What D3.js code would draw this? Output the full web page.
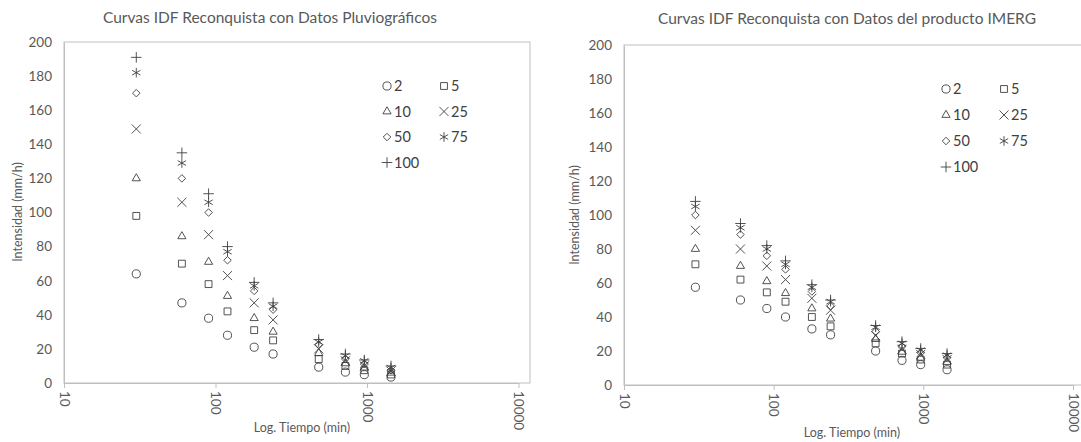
<!DOCTYPE html>
<html>
<head>
<meta charset="utf-8">
<script src="https://cdn.jsdelivr.net/npm/d3@7"></script>
<style>
  body { margin: 0; background: #fff; }
  svg { font-family: Lato, "Open Sans", sans-serif; }
  .title { font-size: 15.5px; fill: #595959; text-anchor: middle; }
  .axisText { font-size: 12.5px; fill: #595959; text-anchor: middle; }
  .tick text { font-size: 13.5px; fill: #595959; font-family: Lato, sans-serif; }
  .legend text { font-size: 14.5px; fill: #404040; }
</style>
</head>
<body>
<div id="chart"></div>
<script>
// durations (min) and return periods (years)
var durations = [30, 60, 90, 120, 180, 240, 480, 720, 960, 1440];
var periods = ["2", "5", "10", "25", "50", "75", "100"];
var xTicks = [10, 100, 1000, 10000];
var yTicks = [0, 20, 40, 60, 80, 100, 120, 140, 160, 180, 200];

// pluviograph data, one array per return period
var pluvio2   = [64, 47, 38, 28, 21, 17, 9.3, 6.4, 4.9, 3.5];
var pluvio5   = [98, 70, 58, 42, 31, 25, 14, 10, 7.5, 5];
var pluvio10  = [120, 86, 71, 51, 38, 30, 17.5, 11.5, 9, 6];
var pluvio25  = [149, 106, 87, 63, 47, 37, 20, 13, 10, 7];
var pluvio50  = [170, 120, 100, 72, 54, 43, 22.5, 14, 11, 7.5];
var pluvio75  = [182, 129, 106, 77, 57, 45, 24, 16, 13, 9];
var pluvio100 = [191, 135, 111, 80, 59, 47, 25.5, 17, 13.5, 10];

// IMERG data
var imerg2   = [57.5, 50, 45, 40, 33, 29.5, 20, 14.5, 12, 9];
var imerg5   = [71, 62, 54.5, 49, 40, 34.5, 24.5, 18.5, 15, 12];
var imerg10  = [80, 70, 61, 54, 45, 39, 27, 19.5, 16, 13.5];
var imerg25  = [91, 80, 70, 62, 51, 44, 29, 21, 18, 15];
var imerg50  = [100, 88.5, 76, 68, 55, 46.5, 31.5, 22.5, 19, 16];
var imerg75  = [105, 92.5, 80, 71, 57.5, 49, 34, 24.5, 20.5, 17.5];
var imerg100 = [108, 95, 82, 73, 59, 50, 35, 25.5, 21.5, 18.5];

var svgWidth = 1081;
var svgHeight = 442;

var svg = d3.select("#chart")
    .append("svg")
    .attr("width", svgWidth)
    .attr("height", svgHeight);

// marker shape + size for each return period
var markers = [
    { type: d3.symbolCircle, size: 52 },
    { type: d3.symbolSquare2, size: 60 },
    { type: d3.symbolTriangle2, size: 48 },
    { type: d3.symbolX, size: 55 },
    { type: d3.symbolDiamond2, size: 36 },
    { type: d3.symbolAsterisk, size: 65 },
    { type: d3.symbolPlus, size: 38 }
];

function drawPanel(cfg) {
    var xScale = d3.scaleLog()
        .domain([10, 10000])
        .range([cfg.left, cfg.xEnd]);

    var yScale = d3.scaleLinear()
        .domain([0, 200])
        .range([cfg.bottom, cfg.top]);

    var g = svg.append("g");

    // plot area border
    g.append("rect")
        .attr("x", cfg.left)
        .attr("y", cfg.top)
        .attr("width", cfg.frameRight - cfg.left)
        .attr("height", cfg.bottom - cfg.top)
        .attr("fill", "none")
        .attr("stroke", "#bfbfbf")
        .attr("stroke-width", 1);

    // x axis
    var bottomAxis = d3.axisBottom(xScale)
        .tickValues(xTicks)
        .tickFormat(d3.format("d"))
        .tickSizeInner(5)
        .tickSizeOuter(0);

    var xAxis = g.append("g")
        .attr("transform", `translate(0, ${cfg.bottom})`)
        .call(bottomAxis);
    xAxis.select(".domain").attr("stroke", "#bfbfbf");
    xAxis.selectAll(".tick line").attr("stroke", "#bfbfbf");
    xAxis.selectAll(".tick text")
        .attr("transform", "rotate(90)")
        .attr("x", 8)
        .attr("y", 0)
        .attr("dy", "0.35em")
        .style("text-anchor", "start");

    // y axis
    var leftAxis = d3.axisLeft(yScale)
        .tickValues(yTicks)
        .tickSize(0)
        .tickPadding(cfg.yPad);

    var yAxis = g.append("g")
        .attr("transform", `translate(${cfg.left}, 0)`)
        .call(leftAxis);
    yAxis.select(".domain").attr("stroke", "#bfbfbf");

    // points
    cfg.series.forEach(function(vals, i) {
        var sym = d3.symbol().type(markers[i].type).size(markers[i].size);
        g.selectAll(null)
            .data(vals)
            .enter()
            .append("path")
            .attr("d", sym)
            .attr("transform", (d, j) => `translate(${xScale(durations[j])}, ${yScale(d)})`)
            .attr("fill", "none")
            .attr("stroke", "#404040")
            .attr("stroke-width", 0.9);
    });

    // titles
    g.append("text")
        .attr("class", "title")
        .attr("x", cfg.titleX)
        .attr("y", cfg.titleY)
        .text(cfg.title);

    g.append("text")
        .attr("class", "axisText")
        .attr("x", cfg.xTitleX)
        .attr("y", cfg.xTitleY)
        .text("Log. Tiempo (min)");

    g.append("text")
        .attr("class", "axisText")
        .attr("transform", `translate(${cfg.yTitleX}, ${cfg.yTitleY}) rotate(-90)`)
        .text("Intensidad (mm/h)");

    // legend, two columns
    var legend = g.append("g").attr("class", "legend");
    periods.forEach(function(p, i) {
        var col = i % 2;
        var row = Math.floor(i / 2);
        var lx = cfg.legX + col * cfg.legColW;
        var ly = cfg.legY + row * cfg.legRowH;
        var sym = d3.symbol().type(markers[i].type).size(markers[i].size);
        legend.append("path")
            .attr("d", sym)
            .attr("transform", `translate(${lx}, ${ly})`)
            .attr("fill", "none")
            .attr("stroke", "#404040")
            .attr("stroke-width", 0.9);
        legend.append("text")
            .attr("x", lx + 7)
            .attr("y", ly)
            .attr("dy", "0.35em")
            .text(p);
    });
}

drawPanel({
    left: 64, xEnd: 518.5, frameRight: 530, top: 42, bottom: 383, yPad: 12,
    series: [pluvio2, pluvio5, pluvio10, pluvio25, pluvio50, pluvio75, pluvio100],
    title: "Curvas IDF Reconquista con Datos Pluviográficos",
    titleX: 270, titleY: 23,
    xTitleX: 302, xTitleY: 432,
    yTitleX: 22, yTitleY: 212,
    legX: 387, legY: 86, legColW: 57, legRowH: 25.5
});

drawPanel({
    left: 624, xEnd: 1073, frameRight: 1095, top: 45, bottom: 385, yPad: 12,
    series: [imerg2, imerg5, imerg10, imerg25, imerg50, imerg75, imerg100],
    title: "Curvas IDF Reconquista con Datos del producto IMERG",
    titleX: 847, titleY: 24,
    xTitleX: 852, xTitleY: 437,
    yTitleX: 579, yTitleY: 215,
    legX: 946, legY: 89, legColW: 58, legRowH: 26
});
</script>
</body>
</html>
